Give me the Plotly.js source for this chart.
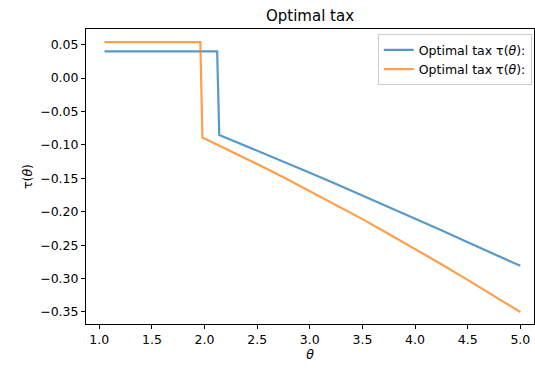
<!DOCTYPE html>
<html>
<head>
<meta charset="utf-8">
<script src="https://cdn.plot.ly/plotly-3.0.1.min.js"></script>
<style>html,body{margin:0;padding:0;background:#fff;}#chart{width:535px;height:368px;}</style>
</head>
<body>
<div id="chart"></div>
<script>
const thetaBlue = [1.05, 2.12, 2.14, 2.25, 2.5, 2.75, 3.0, 3.25, 3.5, 3.75, 4.0, 4.25, 4.5, 4.75, 5.0];
const tauBlue   = [0.040, 0.040, -0.085, -0.0921, -0.1084, -0.1249, -0.1416, -0.1584, -0.1755, -0.1927, -0.2102, -0.2278, -0.2456, -0.2635, -0.281];
const thetaOrange = [1.05, 1.96, 1.98, 2.25, 2.5, 2.75, 3.0, 3.25, 3.5, 3.75, 4.0, 4.25, 4.5, 4.75, 5.0];
const tauOrange   = [0.054, 0.054, -0.089, -0.109, -0.1285, -0.1485, -0.169, -0.1899, -0.211, -0.2332, -0.2556, -0.2785, -0.302, -0.3258, -0.350];
const seriesNames = ["Optimal tax τ(<i>θ</i>):", "Optimal tax τ(<i>θ</i>):"];
const xTicks = [1.0, 1.5, 2.0, 2.5, 3.0, 3.5, 4.0, 4.5, 5.0];
const yTicks = [0.05, 0.00, -0.05, -0.10, -0.15, -0.20, -0.25, -0.30, -0.35];

const fmt = (v, d) => { const s = Math.abs(v).toFixed(d); return (v < 0 ? "\u2212" : "") + s; };

const traces = [
  {x: thetaBlue, y: tauBlue, name: seriesNames[0], mode: "lines", opacity: 0.75,
   line: {color: "#1f77b4", width: 2.2}},
  {x: thetaOrange, y: tauOrange, name: seriesNames[1], mode: "lines", opacity: 0.75,
   line: {color: "#ff7f0e", width: 2.2}}
];

const F = "DejaVu Sans";
const axCommon = {
  showgrid: false, zeroline: false, showline: true, mirror: true,
  linecolor: "#000", linewidth: 1, ticks: "outside", ticklen: 4, tickwidth: 1,
  tickcolor: "#000", tickfont: {family: F, size: 12.5, color: "#000"}
};

const layout = {
  width: 535, height: 368,
  margin: {l: 86, r: 1, t: 29, b: 44},
  paper_bgcolor: "#fff", plot_bgcolor: "#fff",
  font: {family: F, color: "#000"},
  title: {text: "Optimal tax", font: {family: F, size: 15, color: "#000"},
          x: 0.5795, xanchor: "center", y: 0.957, yanchor: "middle", yref: "container"},
  xaxis: Object.assign({}, axCommon, {
    range: [0.874, 5.13], tickvals: xTicks, ticktext: xTicks.map(v => fmt(v, 1)),
    title: {text: "<i>θ</i>", font: {family: F, size: 12.5, color: "#000"}, standoff: 4}
  }),
  yaxis: Object.assign({}, axCommon, {
    range: [-0.368, 0.0735], tickvals: yTicks, ticktext: yTicks.map(v => fmt(v, 2)),
    title: {text: "τ(<i>θ</i>)", font: {family: F, size: 12.5, color: "#000"}, standoff: 4}
  }),
  showlegend: true,
  legend: {x: 0.995, xanchor: "right", y: 0.982, yanchor: "top",
           bgcolor: "rgba(255,255,255,0.8)", bordercolor: "#cccccc", borderwidth: 1,
           font: {family: F, size: 12.5, color: "#000"}, tracegroupgap: 0}
};

Plotly.newPlot("chart", traces, layout, {staticPlot: true, displayModeBar: false});
</script>
</body>
</html>
